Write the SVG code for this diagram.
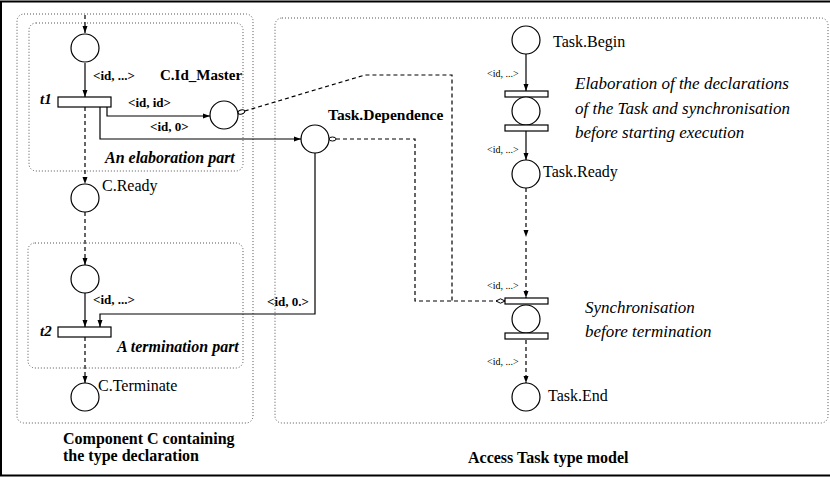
<svg xmlns="http://www.w3.org/2000/svg" width="830" height="477" viewBox="0 0 830 477">
<style>
.box{fill:none;stroke:#555;stroke-width:1;stroke-dasharray:1 2}
.pl{fill:#fff;stroke:#000;stroke-width:1.2}
.tr{fill:#fff;stroke:#000;stroke-width:1.2}
.s{fill:none;stroke:#000;stroke-width:1.2}
.d{fill:none;stroke:#000;stroke-width:1.2;stroke-dasharray:4 3}
.arr{marker-end:url(#ah)}
text{font-family:"Liberation Serif","Times New Roman",serif;fill:#000}
.b{font-weight:bold}
.bi{font-weight:bold;font-style:italic}
.it{font-style:italic;font-size:17px}
.sm{font-size:10px}
</style>
<defs>
<marker id="ah" markerUnits="userSpaceOnUse" markerWidth="10" markerHeight="8" viewBox="0 -4 8 8" refX="7" refY="0" orient="auto"><path d="M0,-2.5 L7,0 L0,2.5 Z" fill="#000"/></marker>
<marker id="oc" markerUnits="userSpaceOnUse" markerWidth="10" markerHeight="8" viewBox="-1 -4 10 8" refX="0" refY="0" orient="auto"><ellipse cx="3.5" cy="0" rx="3.5" ry="2" fill="#fff" stroke="#000" stroke-width="1"/></marker>
<marker id="dm" markerUnits="userSpaceOnUse" markerWidth="12" markerHeight="8" viewBox="-1 -4 12 8" refX="9" refY="0" orient="auto"><path d="M0,0 L4.5,-2.2 L9,0 L4.5,2.2 Z" fill="#fff" stroke="#000" stroke-width="1"/></marker>
</defs>
<rect x="1" y="1.5" width="850" height="474" fill="#fff" stroke="#000" stroke-width="2"/>
<g id="boxes">
<rect class="box" x="17" y="14" width="236" height="409" rx="7"/>
<rect class="box" x="29" y="23" width="214" height="148" rx="7"/>
<rect class="box" x="28" y="243" width="215" height="125" rx="7"/>
<rect class="box" x="275" y="18" width="553" height="405" rx="7"/>
</g>
<g id="connectors">
<path class="d arr" d="M85,15 V33"/>
<path class="s arr" d="M85,63 V97"/>
<path class="s arr" d="M107,107 V116 H210"/>
<path class="s arr" d="M100,107 V139 H301"/>
<path class="d arr" d="M85,107 V184"/>
<path class="d arr" d="M85,212 V265"/>
<path class="s arr" d="M85,293 V327"/>
<path class="s arr" d="M315,153 V314 H100 V327"/>
<path class="d arr" d="M85,337 V383"/>
<path class="d" d="M238,113 L365,75 H452 V301" marker-start="url(#oc)"/>
<path class="d" d="M329,139 H415 V301 H505" marker-start="url(#oc)" marker-end="url(#dm)"/>
<path class="s arr" d="M526,54 V91"/>
<path class="s arr" d="M526,131 V160"/>
<path class="d arr" d="M526,188 V237"/>
<path class="d arr" d="M526,241 V298"/>
<path class="d arr" d="M526,340 V383"/>
</g>
<g id="p_top"><circle class="pl" cx="85" cy="48" r="14"/></g>
<g id="t1"><rect class="tr" x="58" y="97" width="53" height="10"/><text class="bi" x="40" y="104" font-size="15">t1</text></g>
<g id="C_Id_Master"><circle class="pl" cx="224" cy="115" r="14"/><text class="b" x="160" y="80" font-size="15">C.Id_Master</text></g>
<g id="Task_Dependence"><circle class="pl" cx="315" cy="139" r="14"/><text class="b" x="328" y="120" font-size="15.5">Task.Dependence</text></g>
<g id="C_Ready"><circle class="pl" cx="85" cy="198" r="14"/><text x="102" y="191" font-size="16">C.Ready</text></g>
<g id="p_term"><circle class="pl" cx="85" cy="279" r="14"/></g>
<g id="t2"><rect class="tr" x="58" y="327" width="53" height="10"/><text class="bi" x="40" y="336" font-size="15">t2</text></g>
<g id="C_Terminate"><circle class="pl" cx="85" cy="397" r="14"/><text x="98" y="391" font-size="16">C.Terminate</text></g>
<g id="Task_Begin"><circle class="pl" cx="526" cy="40" r="14"/><text x="553" y="47" font-size="16">Task.Begin</text></g>
<g id="elab_trans"><rect class="tr" x="505" y="91" width="43" height="6"/><circle class="pl" cx="526" cy="111" r="14"/><rect class="tr" x="505" y="125" width="43" height="6"/></g>
<g id="Task_Ready"><circle class="pl" cx="526" cy="174" r="14"/><text x="543" y="177" font-size="16">Task.Ready</text></g>
<g id="sync_trans"><rect class="tr" x="505" y="298" width="43" height="6"/><circle class="pl" cx="526" cy="319" r="14"/><rect class="tr" x="505" y="333" width="43" height="6"/></g>
<g id="Task_End"><circle class="pl" cx="526" cy="397" r="14"/><text x="548" y="401" font-size="16">Task.End</text></g>
<g id="labels">
<text class="b" x="93" y="80" font-size="13">&lt;id, ...&gt;</text>
<text class="b" x="128" y="107" font-size="13">&lt;id, id&gt;</text>
<text class="b" x="150" y="131" font-size="13">&lt;id, 0&gt;</text>
<text class="bi" x="105" y="163" font-size="16">An elaboration part</text>
<text class="b" x="93" y="304" font-size="13">&lt;id, ...&gt;</text>
<text class="b" x="267" y="306" font-size="13">&lt;id, 0.&gt;</text>
<text class="bi" x="117" y="352" font-size="16">A termination part</text>
<text class="b" x="63" y="444" font-size="16">Component C containing</text>
<text class="b" x="63" y="461" font-size="16">the type declaration</text>
<text class="b" x="468" y="463" font-size="16">Access Task type model</text>
<text class="sm" x="487" y="77">&lt;id, ...&gt;</text>
<text class="sm" x="487" y="153">&lt;id, ...&gt;</text>
<text class="sm" x="487" y="289">&lt;id, ...&gt;</text>
<text class="sm" x="487" y="365">&lt;id, ...&gt;</text>
<text class="it" x="575" y="89">Elaboration of the declarations</text>
<text class="it" x="575" y="114">of the Task and synchronisation</text>
<text class="it" x="575" y="138">before starting execution</text>
<text class="it" x="585" y="313" font-size="17.5">Synchronisation</text>
<text class="it" x="585" y="337" font-size="17.5">before termination</text>
</g>
</svg>
